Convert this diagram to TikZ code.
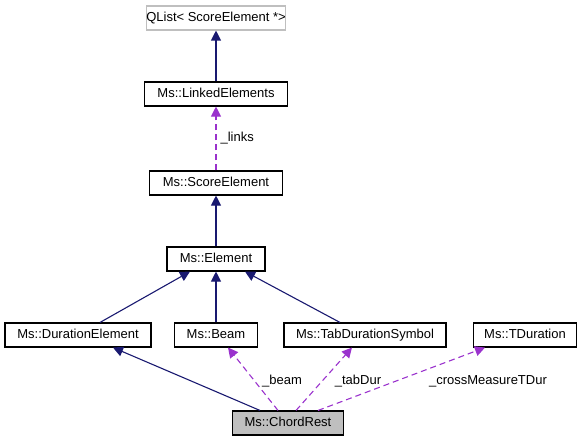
\documentclass[tikz,border=0pt]{standalone}
\usepackage{fontspec}
\setmainfont{Liberation Sans}
\usetikzlibrary{arrows.meta}
\definecolor{inhcol}{HTML}{191970}
\definecolor{usecol}{HTML}{9A32CD}
\definecolor{grayfill}{HTML}{BFBFBF}
\begin{document}
\begin{tikzpicture}[x=1pt,y=-1pt,
  box/.style={draw=black,line width=1.1pt,fill=white,minimum height=24pt,inner sep=0pt,
    font=\fontsize{13}{15}\selectfont,text height=9.5pt,text depth=2.5pt},
  inh/.style={draw=inhcol,line width=1.1pt,-{Triangle[length=10pt,width=10pt]},inhcol},
  use/.style={draw=usecol,line width=1.1pt,dash pattern=on 6pt off 4pt,-{Triangle[length=10pt,width=10pt]},usecol},
  lbl/.style={font=\fontsize{13}{15}\selectfont,inner sep=0pt,text=black}]
\useasboundingbox (0,0) rectangle (580,444);
\node[box,draw=grayfill,minimum width=132pt] (ql) at (216,18) {QList< ScoreElement *>};
\node[box,minimum width=143pt] (le) at (216,94) {Ms::LinkedElements};
\node[box,minimum width=133pt] (se) at (216,183) {Ms::ScoreElement};
\node[box,minimum width=98pt] (el) at (216,259) {Ms::Element};
\node[box,minimum width=146pt] (de) at (78,335) {Ms::DurationElement};
\node[box,minimum width=83pt] (bm) at (216,335) {Ms::Beam};
\node[box,minimum width=162pt] (td) at (365,335) {Ms::TabDurationSymbol};
\node[box,minimum width=103pt] (tdu) at (525,335) {Ms::TDuration};
\node[box,fill=grayfill,minimum width=111pt] (cr) at (288,423) {Ms::ChordRest};

\draw[inh] (le.north) -- (ql.south);
\draw[use] (se.north) -- node[lbl,right=4pt,pos=0.5] {\_links} (le.south);
\draw[inh] (el.north) -- (se.south);
\draw[inh] ([xshift=22pt]de.north) -- ([xshift=-26pt]el.south);
\draw[inh] (bm.north) -- (el.south);
\draw[inh] ([xshift=-25pt]td.north) -- ([xshift=29pt]el.south);
\draw[inh] ([xshift=-28pt]cr.north) -- ([xshift=35pt]de.south);
\draw[use] ([xshift=-10pt]cr.north) -- ([xshift=12pt]bm.south);
\draw[use] ([xshift=8pt]cr.north) -- ([xshift=-13pt]td.south);
\draw[use] ([xshift=30pt]cr.north) -- ([xshift=-40pt]tdu.south);
\node[lbl] (lb) at (282,381) {\_beam};
\node[lbl] (lt) at (358,381) {\_tabDur};
\node[lbl] (lc) at (488,381) {\_crossMeasureTDur};
\end{tikzpicture}
\end{document}
